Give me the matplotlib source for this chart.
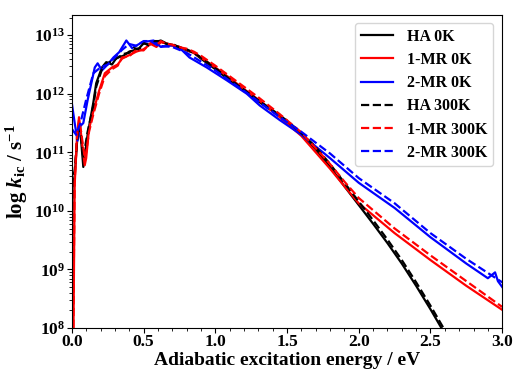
import numpy as np
import matplotlib
matplotlib.use("Agg")
import matplotlib.pyplot as plt
from matplotlib.ticker import MultipleLocator, LogLocator, NullFormatter

plt.rcParams['font.family'] = ['Liberation Serif', 'DejaVu Serif']
plt.rcParams['font.weight'] = 'bold'
plt.rcParams['mathtext.fontset'] = 'custom'
plt.rcParams['mathtext.rm'] = 'Liberation Serif:bold'
plt.rcParams['mathtext.bf'] = 'Liberation Serif:bold'
plt.rcParams['mathtext.it'] = 'Liberation Serif:italic:bold'

# energies (eV) and log10 of k_ic
ha0_e = [0.0, 0.005, 0.02, 0.04, 0.05, 0.065, 0.08, 0.11, 0.15, 0.17, 0.21, 0.24, 0.28, 0.31, 0.36,
         0.40, 0.43, 0.47, 0.5, 0.54, 0.58, 0.62, 0.66, 0.71, 0.75, 0.80, 0.85, 0.90, 1.0, 1.1, 1.2,
         1.3, 1.4, 1.5, 1.6, 1.7, 1.8, 1.9, 2.0, 2.1, 2.2, 2.3, 2.4, 2.5, 2.6]
ha0_lg = [7.5, 10.4, 10.6, 11.3, 11.5, 11.2, 10.75, 11.3, 11.85, 12.18, 12.45, 12.54, 12.5, 12.61, 12.65,
          12.72, 12.74, 12.78, 12.86, 12.84, 12.88, 12.91, 12.86, 12.83, 12.80, 12.74, 12.70, 12.60, 12.42, 12.23, 12.05,
          11.87, 11.7, 11.52, 11.3, 11.05, 10.75, 10.42, 10.1, 9.78, 9.45, 9.1, 8.72, 8.32, 7.9]

ha300_e = [0.0, 0.005, 0.02, 0.04, 0.05, 0.065, 0.08, 0.11, 0.15, 0.17, 0.21, 0.24, 0.28, 0.31, 0.36,
           0.40, 0.43, 0.47, 0.5, 0.54, 0.58, 0.62, 0.66, 0.71, 0.75, 0.80, 0.85, 0.90, 1.0, 1.1, 1.2,
           1.3, 1.4, 1.5, 1.6, 1.7, 1.8, 1.9, 2.0, 2.1, 2.2, 2.3, 2.4, 2.5, 2.6]
ha300_lg = [7.6, 10.5, 10.7, 11.3, 11.45, 11.25, 10.9, 11.35, 11.8, 12.12, 12.42, 12.52, 12.55, 12.6, 12.68,
            12.7, 12.78, 12.76, 12.87, 12.82, 12.9, 12.9, 12.85, 12.84, 12.79, 12.76, 12.70, 12.62, 12.44, 12.25, 12.07,
            11.89, 11.72, 11.54, 11.33, 11.09, 10.8, 10.48, 10.16, 9.84, 9.51, 9.16, 8.78, 8.38, 7.96]

mr1_0_e = [0.01, 0.015, 0.02, 0.035, 0.05, 0.065, 0.09, 0.1, 0.12, 0.15, 0.19, 0.23, 0.28, 0.32, 0.35,
           0.40, 0.45, 0.5, 0.55, 0.59, 0.62, 0.66, 0.7, 0.74, 0.8, 0.85, 0.9, 1.0, 1.1, 1.2, 1.3, 1.45,
           1.6, 1.7, 1.8, 1.9, 2.0, 2.25, 2.5, 2.75, 3.0]
mr1_0_lg = [7.5, 9.0, 10.45, 11.2, 11.6, 11.3, 10.78, 10.9, 11.4, 11.7, 12.05, 12.35, 12.45, 12.5, 12.6,
            12.66, 12.72, 12.76, 12.85, 12.8, 12.88, 12.86, 12.82, 12.81, 12.75, 12.70, 12.62, 12.45, 12.27, 12.08, 11.9, 11.6,
            11.28, 11.0, 10.72, 10.42, 10.13, 9.62, 9.16, 8.72, 8.31]

mr1_300_e = [0.01, 0.015, 0.02, 0.035, 0.05, 0.065, 0.09, 0.1, 0.12, 0.15, 0.19, 0.23, 0.28, 0.32, 0.35,
             0.40, 0.45, 0.5, 0.55, 0.59, 0.62, 0.66, 0.7, 0.74, 0.8, 0.85, 0.9, 1.0, 1.1, 1.2, 1.3, 1.45,
             1.6, 1.7, 1.8, 1.9, 2.0, 2.25, 2.5, 2.75, 3.0]
mr1_300_lg = [7.6, 9.3, 10.5, 11.25, 11.55, 11.35, 10.9, 11.0, 11.35, 11.65, 12.0, 12.3, 12.42, 12.48, 12.62,
              12.64, 12.75, 12.74, 12.87, 12.82, 12.9, 12.85, 12.84, 12.8, 12.77, 12.72, 12.65, 12.48, 12.3, 12.12, 11.94, 11.65,
              11.34, 11.07, 10.8, 10.5, 10.22, 9.7, 9.24, 8.8, 8.36]

mr2_0_e = [0.0, 0.02, 0.04, 0.06, 0.08, 0.11, 0.16, 0.18, 0.21, 0.25, 0.29, 0.33, 0.38, 0.42, 0.49,
           0.57, 0.62, 0.71, 0.77, 0.82, 0.94, 1.08, 1.22, 1.31, 1.45, 1.6, 1.8, 2.0, 2.25, 2.5, 2.75,
           2.9, 2.95, 2.97, 3.0]
mr2_0_lg = [11.84, 11.5, 11.2, 11.45, 11.5, 11.89, 12.45, 12.52, 12.40, 12.5, 12.62, 12.71, 12.91, 12.78, 12.88,
            12.91, 12.80, 12.83, 12.74, 12.62, 12.45, 12.23, 12.0, 11.80, 11.55, 11.3, 10.9, 10.48, 10.05, 9.55, 9.1,
            8.85, 8.95, 8.8, 8.70]

mr2_300_e = [0.0, 0.03, 0.06, 0.1, 0.15, 0.2, 0.25, 0.3, 0.35, 0.4, 0.45, 0.5, 0.55, 0.6, 0.7,
             0.8, 0.9, 1.0, 1.1, 1.2, 1.3, 1.45, 1.6, 1.8, 2.0, 2.25, 2.5, 2.75, 3.0]
mr2_300_lg = [11.4, 11.3, 11.5, 11.9, 12.35, 12.45, 12.5, 12.62, 12.75, 12.85, 12.82, 12.9, 12.9, 12.82, 12.8,
              12.7, 12.55, 12.4, 12.22, 12.05, 11.87, 11.6, 11.35, 10.98, 10.56, 10.13, 9.62, 9.18, 8.78]

series = [
    (ha0_e, ha0_lg, 'k', '-', "HA 0K"),
    (mr1_0_e, mr1_0_lg, 'r', '-', "1-MR 0K"),
    (mr2_0_e, mr2_0_lg, 'b', '-', "2-MR 0K"),
    (ha300_e, ha300_lg, 'k', '--', "HA 300K"),
    (mr1_300_e, mr1_300_lg, 'r', '--', "1-MR 300K"),
    (mr2_300_e, mr2_300_lg, 'b', '--', "2-MR 300K"),
]

fig = plt.figure(figsize=(5.13, 3.70), dpi=100)
ax = fig.add_axes([0.140, 0.1135, 0.839, 0.8455])

for e, lg, c, ls, lab in series:
    ax.plot(e, 10 ** np.array(lg), color=c, linestyle=ls, linewidth=1.6, label=lab)

ax.set_yscale('log')
ax.set_xlim(0, 3.0)
ax.set_ylim(1e8, 2.2e13)
ax.xaxis.set_major_locator(MultipleLocator(0.5))
ax.xaxis.set_minor_locator(MultipleLocator(0.1))
ax.yaxis.set_minor_locator(LogLocator(base=10, subs=np.arange(2, 10)))
ax.yaxis.set_minor_formatter(NullFormatter())
ax.tick_params(labelsize=12.5, pad=1)

ax.set_xlabel("Adiabatic excitation energy / eV", fontsize=14, fontweight='bold', labelpad=1)
ax.set_ylabel(r"log $k_{\mathrm{ic}}$ / s$^{-1}$", fontsize=15, fontweight='bold', labelpad=3)

ax.legend(loc='upper right', prop={'weight': 'bold', 'size': 11.5},
          handlelength=2.0, handletextpad=0.9, labelspacing=0.45, borderpad=0.35,
          borderaxespad=0, bbox_to_anchor=(0.979, 0.974))

fig.savefig("out.png", dpi=100)
